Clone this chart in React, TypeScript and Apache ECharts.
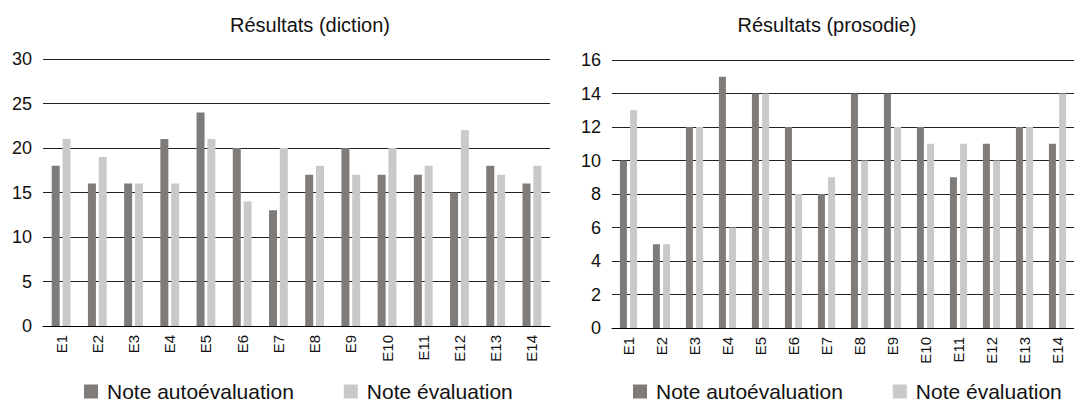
import React, { useEffect, useRef } from "react";
import * as echarts from "echarts";

const categories = ["E1", "E2", "E3", "E4", "E5", "E6", "E7", "E8", "E9", "E10", "E11", "E12", "E13", "E14"];
const seriesNames = ["Note autoévaluation", "Note évaluation"];

const dictionAuto = [18, 16, 16, 21, 24, 20, 13, 17, 20, 17, 17, 15, 18, 16];
const dictionEval = [21, 19, 16, 16, 21, 14, 20, 18, 17, 20, 18, 22, 17, 18];

const prosodieAuto = [10, 5, 12, 15, 14, 12, 8, 14, 14, 12, 9, 11, 12, 11];
const prosodieEval = [13, 5, 12, 6, 14, 8, 9, 10, 12, 11, 11, 10, 12, 14];

const titles = ["Résultats (diction)", "Résultats (prosodie)"];

const DARK = "#7F7B78";
const LIGHT = "#C9C9C9";
const FONT = "'Liberation Sans', Arial, sans-serif";
const TEXT = "#111";

export default function App() {
  const ref = useRef<HTMLDivElement>(null);

  useEffect(() => {
    if (!ref.current) return;
    const chart = echarts.init(ref.current, null, { renderer: "svg" });

    const xAxisBase = (gridIndex: number) => ({
      type: "category" as const,
      gridIndex,
      data: categories,
      axisTick: { show: false },
      axisLine: { show: true, lineStyle: { color: "#000", width: 1 } },
      axisLabel: { rotate: 90, fontSize: 15, color: TEXT, fontFamily: FONT, margin: 9 },
    });

    const yAxisBase = (gridIndex: number, max: number, interval: number) => ({
      type: "value" as const,
      gridIndex,
      min: 0,
      max,
      interval,
      axisLine: { show: false },
      axisTick: { show: false },
      axisLabel: { fontSize: 18, color: TEXT, fontFamily: FONT, margin: 11 },
      splitLine: { show: true, lineStyle: { color: "#222", width: 1 } },
    });

    const legendBase = (left: number) => ({
      left,
      top: 376,
      itemWidth: 14,
      itemHeight: 14,
      itemGap: 50,
      icon: "rect",
      data: seriesNames,
      textStyle: { fontSize: 21, color: TEXT, fontFamily: FONT, padding: [0, 0, 0, 4] },
    });

    chart.setOption({
      animation: false,
      backgroundColor: "#fff",
      title: [
        { text: titles[0], left: 305, top: 10, textAlign: "center", textStyle: { fontSize: 20, fontWeight: "normal", color: TEXT, fontFamily: FONT } },
        { text: titles[1], left: 822, top: 10, textAlign: "center", textStyle: { fontSize: 20, fontWeight: "normal", color: TEXT, fontFamily: FONT } },
      ],
      legend: [legendBase(79), legendBase(628)],
      grid: [
        { left: 43, right: 524, top: 59, bottom: 76, containLabel: false },
        { left: 612, right: -3, top: 60, bottom: 74, containLabel: false },
      ],
      xAxis: [xAxisBase(0), xAxisBase(1)],
      yAxis: [yAxisBase(0, 30, 5), yAxisBase(1, 16, 2)],
      series: [
        { name: seriesNames[0], type: "bar", xAxisIndex: 0, yAxisIndex: 0, data: dictionAuto, barWidth: 8, barGap: "35%", itemStyle: { color: DARK } },
        { name: seriesNames[1], type: "bar", xAxisIndex: 0, yAxisIndex: 0, data: dictionEval, barWidth: 8, barGap: "35%", itemStyle: { color: LIGHT } },
        { name: seriesNames[0], type: "bar", xAxisIndex: 1, yAxisIndex: 1, data: prosodieAuto, barWidth: 7, barGap: "45%", itemStyle: { color: DARK } },
        { name: seriesNames[1], type: "bar", xAxisIndex: 1, yAxisIndex: 1, data: prosodieEval, barWidth: 7, barGap: "45%", itemStyle: { color: LIGHT } },
      ],
    });

    return () => chart.dispose();
  }, []);

  return (
    <div style={{ position: "absolute", left: 0, top: 0, width: 1074, height: 402, overflow: "hidden", background: "#fff" }}>
      <div ref={ref} style={{ width: 1074, height: 402 }} />
    </div>
  );
}
